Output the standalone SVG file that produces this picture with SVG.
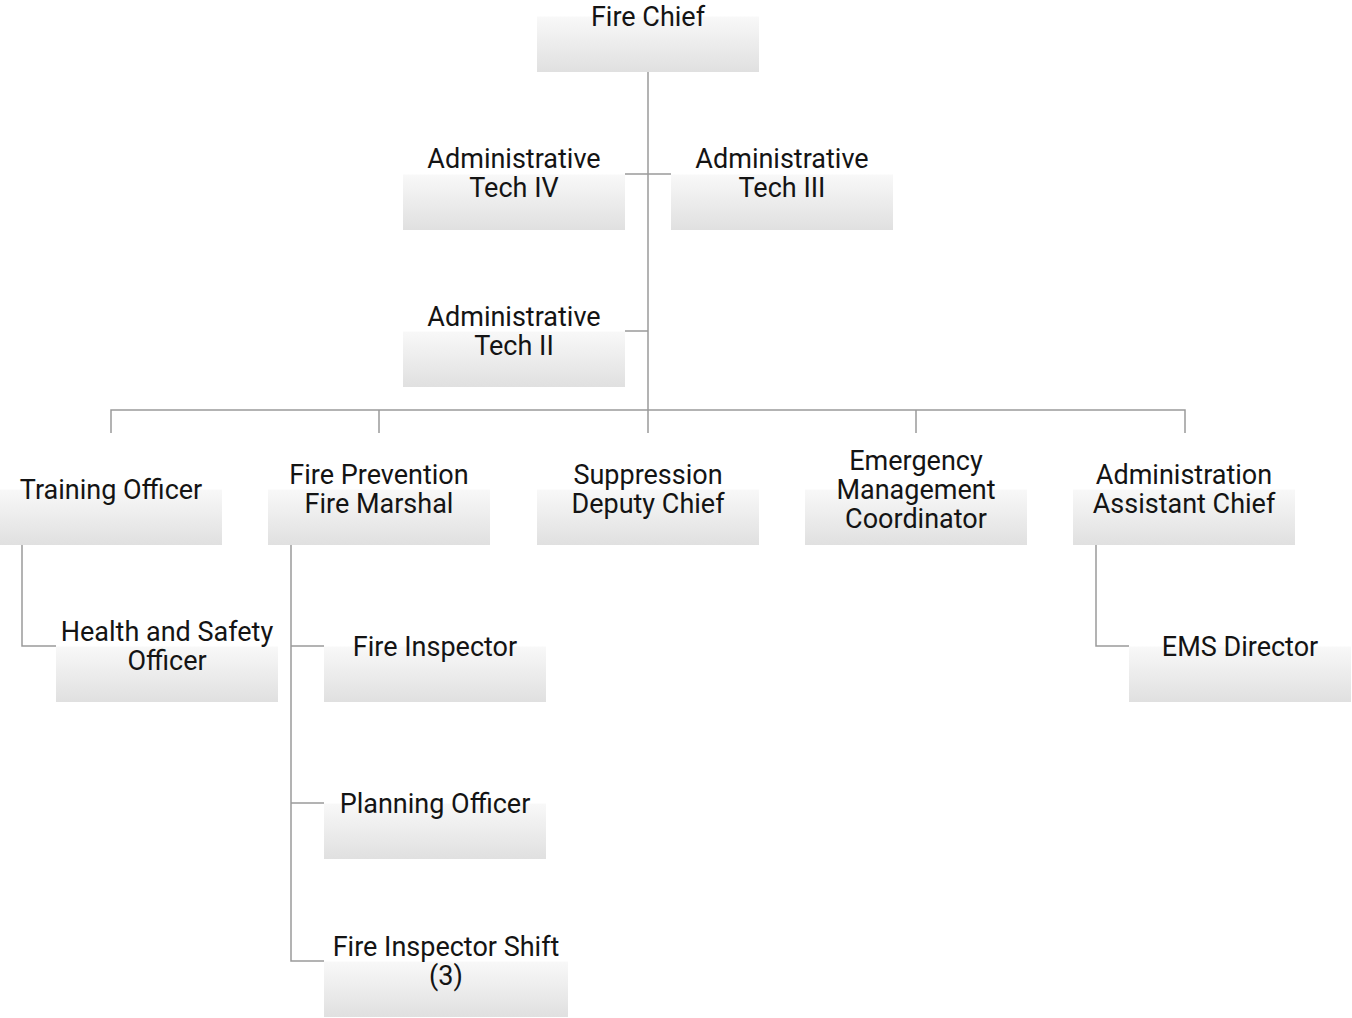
<svg xmlns="http://www.w3.org/2000/svg" width="1352" height="1018" viewBox="0 0 1352 1018">
  <defs>
    <linearGradient id="boxFill" x1="0" y1="0" x2="0" y2="1">
      <stop offset="0" stop-color="#ffffff"/>
      <stop offset="0.5" stop-color="#ffffff"/>
      <stop offset="0.51" stop-color="#f8f8f8"/>
      <stop offset="1" stop-color="#e0e0e0"/>
    </linearGradient>
  </defs>
  <style>
    .box { fill: url(#boxFill); }
    .lbl { font-family: Roboto, "Liberation Sans", sans-serif; font-size: 27px; fill: #141414; text-anchor: middle; }
    .conn { fill: none; stroke: #9a9a9a; stroke-width: 1.5; }
  </style>
  <rect width="1352" height="1018" fill="#ffffff"/>

  <!-- reporting lines -->
  <g id="connectors">
    <path class="conn" d="M648 72 V410"/>
    <path class="conn" d="M625 174 H671"/>
    <path class="conn" d="M625 331 H648"/>
    <path class="conn" d="M111 433 V410 H1185 V433"/>
    <path class="conn" d="M379 410 V433"/>
    <path class="conn" d="M648 410 V433"/>
    <path class="conn" d="M916 410 V433"/>
    <path class="conn" d="M22 545 V646 H56"/>
    <path class="conn" d="M291 545 V961 H324"/>
    <path class="conn" d="M291 646 H324"/>
    <path class="conn" d="M291 803 H324"/>
    <path class="conn" d="M1096 545 V646 H1129"/>
  </g>

  <g id="fire-chief">
    <rect class="box" x="537" y="-40" width="222" height="112"/>
    <text class="lbl" x="648" y="26">Fire Chief</text>
  </g>
  <g id="admin-tech-iv">
    <rect class="box" x="403" y="118" width="222" height="112"/>
    <text class="lbl" x="514" y="168">Administrative<tspan x="514" dy="29">Tech IV</tspan></text>
  </g>
  <g id="admin-tech-iii">
    <rect class="box" x="671" y="118" width="222" height="112"/>
    <text class="lbl" x="782" y="168">Administrative<tspan x="782" dy="29">Tech III</tspan></text>
  </g>
  <g id="admin-tech-ii">
    <rect class="box" x="403" y="275" width="222" height="112"/>
    <text class="lbl" x="514" y="325.5">Administrative<tspan x="514" dy="29">Tech II</tspan></text>
  </g>
  <g id="training-officer">
    <rect class="box" x="0" y="433" width="222" height="112"/>
    <text class="lbl" x="111" y="498.5">Training Officer</text>
  </g>
  <g id="fire-prevention">
    <rect class="box" x="268" y="433" width="222" height="112"/>
    <text class="lbl" x="379" y="484">Fire Prevention<tspan x="379" dy="29">Fire Marshal</tspan></text>
  </g>
  <g id="suppression">
    <rect class="box" x="537" y="433" width="222" height="112"/>
    <text class="lbl" x="648" y="484">Suppression<tspan x="648" dy="29">Deputy Chief</tspan></text>
  </g>
  <g id="emergency-management">
    <rect class="box" x="805" y="433" width="222" height="112"/>
    <text class="lbl" x="916" y="470">Emergency<tspan x="916" dy="29">Management</tspan><tspan x="916" dy="29">Coordinator</tspan></text>
  </g>
  <g id="administration">
    <rect class="box" x="1073" y="433" width="222" height="112"/>
    <text class="lbl" x="1184" y="484">Administration<tspan x="1184" dy="29">Assistant Chief</tspan></text>
  </g>
  <g id="health-safety">
    <rect class="box" x="56" y="590" width="222" height="112"/>
    <text class="lbl" x="167" y="641">Health and Safety<tspan x="167" dy="29">Officer</tspan></text>
  </g>
  <g id="fire-inspector">
    <rect class="box" x="324" y="590" width="222" height="112"/>
    <text class="lbl" x="435" y="655.5">Fire Inspector</text>
  </g>
  <g id="planning-officer">
    <rect class="box" x="324" y="747" width="222" height="112"/>
    <text class="lbl" x="435" y="812.5">Planning Officer</text>
  </g>
  <g id="fire-inspector-shift">
    <rect class="box" x="324" y="905" width="244" height="112"/>
    <text class="lbl" x="446" y="956">Fire Inspector Shift<tspan x="446" dy="29">(3)</tspan></text>
  </g>
  <g id="ems-director">
    <rect class="box" x="1129" y="590" width="222" height="112"/>
    <text class="lbl" x="1240" y="655.5">EMS Director</text>
  </g>
</svg>
